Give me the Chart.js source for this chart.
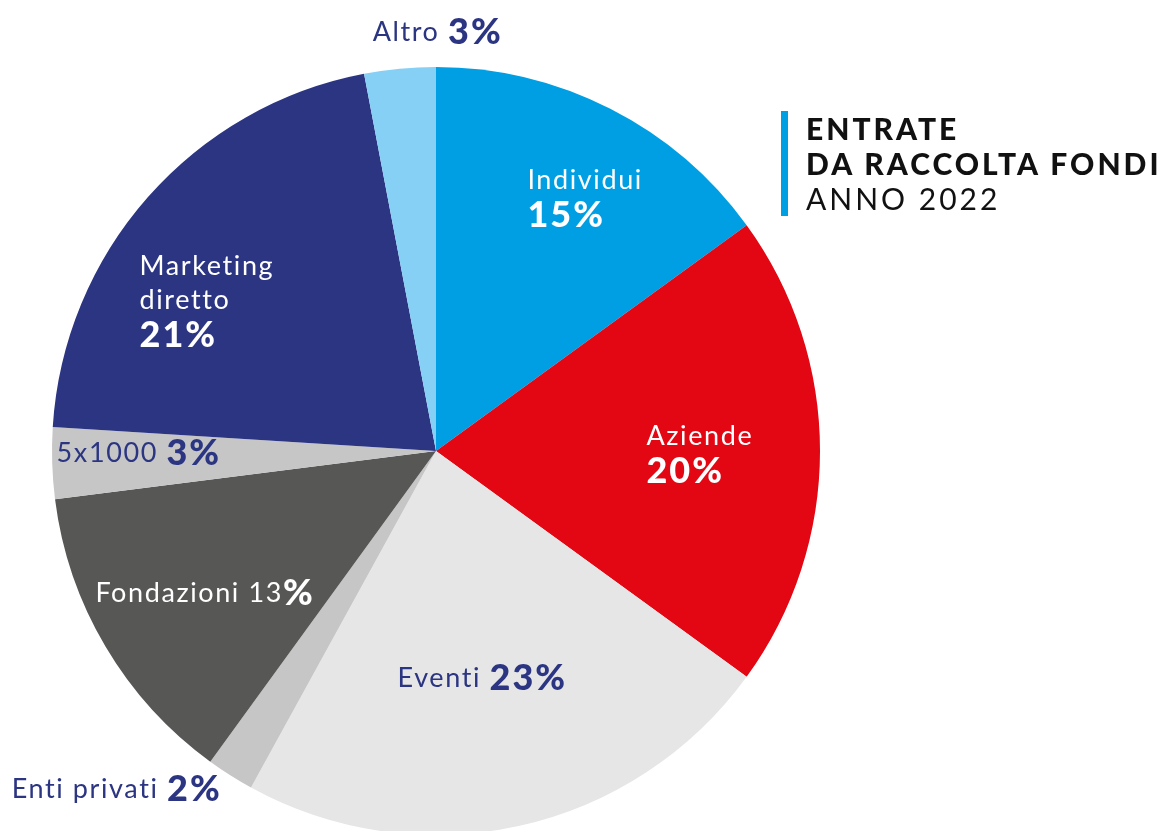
<!DOCTYPE html>
<html lang="it">
<head>
<meta charset="utf-8">
<title>Entrate da raccolta fondi 2022</title>
<script src="https://cdn.jsdelivr.net/npm/chart.js@4"></script>
<style>
  html, body { margin: 0; padding: 0; background: #fff; overflow: hidden; }
  #wrap { position: absolute; left: 0; top: 0; width: 1171px; height: 840px; }
  #titolo {
    position: absolute; left: 781px; top: 111px;
    border-left: 7px solid #009fe3; padding-left: 18px;
    font-family: Lato, sans-serif; font-size: 30px; line-height: 35px; color: #111;
    letter-spacing: 3px; white-space: nowrap;
  }
  #titolo b { font-weight: 900; }
</style>
</head>
<body>
<div id="wrap"><canvas id="torta"></canvas></div>
<div id="titolo"><b>ENTRATE</b><br><b>DA RACCOLTA FONDI</b><br>ANNO 2022</div>
<script>
// Dati (percentuali, in senso orario dalle ore 12)
const categorie = ['Individui', 'Aziende', 'Eventi', 'Enti privati', 'Fondazioni', '5x1000', 'Marketing diretto', 'Altro'];
const valori = [15, 20, 23, 2, 13, 3, 21, 3];
const colori = ['#009fe3', '#e30613', '#e6e6e6', '#c6c6c6', '#575756', '#c6c6c6', '#2b3582', '#86cff5'];

const blu = '#2b3582';

// posizione etichette: spostamento dal centro in frazioni del raggio
const etichette = [
  { dx: 0.238, dy: -0.706, righe: ['Individui'], stile: 'sotto', colore: '#fff' },
  { dx: 0.548, dy: -0.039, righe: ['Aziende'], stile: 'sotto', colore: '#fff' },
  { dx: -0.100, dy: 0.591, righe: ['Eventi'], stile: 'riga', colore: blu },
  { dx: -1.105, dy: 0.880, righe: ['Enti privati'], stile: 'riga', colore: blu },
  { dx: -0.887, dy: 0.370, righe: ['Fondazioni'], stile: 'solo%', colore: '#fff' },
  { dx: -0.988, dy: 0.005, righe: ['5x1000'], stile: 'riga', colore: blu },
  { dx: -0.772, dy: -0.482, righe: ['Marketing', 'diretto'], stile: 'sotto', colore: '#fff' },
  { dx: -0.165, dy: -1.091, righe: ['Altro'], stile: 'riga', colore: blu }
];

const fNome = { font: '400 27px Lato, sans-serif', sp: '1.6px' };
const fVal = { font: '900 36px Lato, sans-serif', sp: '2px' };

function scriviPezzi(ctx, x, y, pezzi) {
  pezzi.forEach(p => {
    ctx.font = p.f.font;
    ctx.letterSpacing = p.f.sp;
    ctx.fillText(p.testo, x, y);
    x += ctx.measureText(p.testo).width;
  });
}

const etichettePlugin = {
  id: 'etichette',
  afterDatasetsDraw(chart) {
    const ctx = chart.ctx;
    const arco = chart.getDatasetMeta(0).data[0];
    const cx = arco.x, cy = arco.y, R = arco.outerRadius;
    ctx.save();
    ctx.textBaseline = 'middle';
    ctx.textAlign = 'left';
    etichette.forEach((e, i) => {
      const x = cx + e.dx * R;
      let y = cy + e.dy * R;
      const v = valori[i];
      ctx.fillStyle = e.colore;
      if (e.stile === 'sotto') {
        e.righe.forEach(r => {
          scriviPezzi(ctx, x, y, [{ testo: r, f: fNome }]);
          y += 34;
        });
        scriviPezzi(ctx, x, y + 1, [{ testo: v + '%', f: fVal }]);
      } else if (e.stile === 'solo%') {
        scriviPezzi(ctx, x, y, [{ testo: e.righe[0] + ' ' + v, f: fNome }, { testo: '%', f: fVal }]);
      } else {
        scriviPezzi(ctx, x, y, [{ testo: e.righe[0] + ' ', f: fNome }, { testo: v + '%', f: fVal }]);
      }
    });
    ctx.restore();
  }
};

const ctx = document.getElementById('torta').getContext('2d');

const torta = new Chart(ctx, {
  type: 'pie',
  data: {
    labels: categorie,
    datasets: [{
      data: valori,
      backgroundColor: colori,
      borderWidth: 0
    }]
  },
  options: {
    responsive: true,
    maintainAspectRatio: false,
    animation: false,
    layout: { padding: { top: 67, left: 52, right: 351, bottom: 5 } },
    plugins: {
      legend: { display: false },
      tooltip: { enabled: false }
    }
  },
  plugins: [etichettePlugin]
});
</script>
</body>
</html>
